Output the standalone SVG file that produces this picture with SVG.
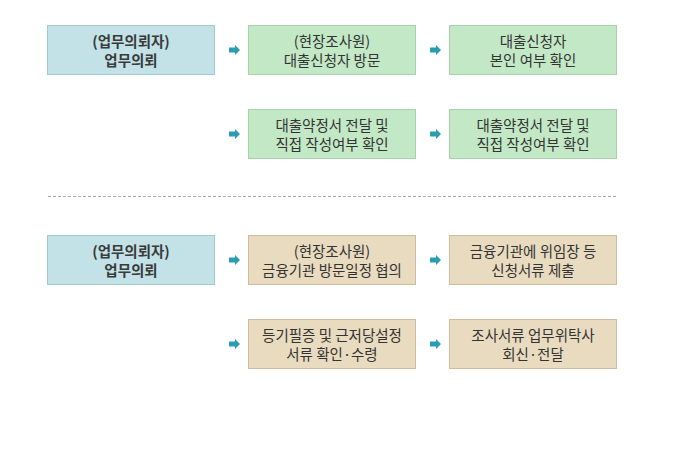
<svg xmlns="http://www.w3.org/2000/svg" width="679" height="464" viewBox="0 0 679 464">
<style>
.blue{fill:#c2e2e8;stroke:#a3c9cf}
.green{fill:#c3e8c6;stroke:#a7d2ab}
.tan{fill:#e9dbbf;stroke:#cfbd9e}
text{font-family:"Noto Sans CJK KR","Noto Sans",sans-serif;font-size:14.5px;fill:#333;text-anchor:middle}
.bold{font-weight:bold;fill:#3a3a3a}
.arr{fill:#2a9db3}
</style>
<defs>
<path id="ar" class="arr" d="M0,-2.5 H6 V-5 L11,0 L6,5 V2.5 H0 Z"/>
</defs>
<rect width="679" height="464" fill="#fff"/>
<g id="n1"><rect class="blue" x="47.5" y="25.5" width="167" height="49"/><text class="bold" x="131" y="47">(업무의뢰자)</text><text class="bold" x="131" y="66">업무의뢰</text></g>
<g id="n2"><rect class="green" x="248.5" y="25.5" width="167" height="49"/><text x="332" y="47">(현장조사원)</text><text x="332" y="66">대출신청자 방문</text></g>
<g id="n3"><rect class="green" x="449.5" y="25.5" width="167" height="49"/><text x="533" y="47">대출신청자</text><text x="533" y="66">본인 여부 확인</text></g>
<g id="n4"><rect class="green" x="248.5" y="109.5" width="167" height="49"/><text x="332" y="131">대출약정서 전달 및</text><text x="332" y="150">직접 작성여부 확인</text></g>
<g id="n5"><rect class="green" x="449.5" y="109.5" width="167" height="49"/><text x="533" y="131">대출약정서 전달 및</text><text x="533" y="150">직접 작성여부 확인</text></g>
<line x1="48" y1="196.5" x2="616" y2="196.5" stroke="#aaa" stroke-dasharray="3,2"/>
<g id="n6"><rect class="blue" x="47.5" y="235.5" width="167" height="49"/><text class="bold" x="131" y="257">(업무의뢰자)</text><text class="bold" x="131" y="276">업무의뢰</text></g>
<g id="n7"><rect class="tan" x="248.5" y="235.5" width="167" height="49"/><text x="332" y="257">(현장조사원)</text><text x="332" y="276">금융기관 방문일정 협의</text></g>
<g id="n8"><rect class="tan" x="449.5" y="235.5" width="167" height="49"/><text x="533" y="257">금융기관에 위임장 등</text><text x="533" y="276">신청서류 제출</text></g>
<g id="n9"><rect class="tan" x="248.5" y="319.5" width="167" height="49"/><text x="332" y="341">등기필증 및 근저당설정</text><text x="332" y="360">서류 확인·수령</text></g>
<g id="n10"><rect class="tan" x="449.5" y="319.5" width="167" height="49"/><text x="533" y="341">조사서류 업무위탁사</text><text x="533" y="360">회신·전달</text></g>
<g id="connectors">
<use href="#ar" x="229" y="50"/>
<use href="#ar" x="430" y="50"/>
<use href="#ar" x="229" y="134"/>
<use href="#ar" x="430" y="134"/>
<use href="#ar" x="229" y="260"/>
<use href="#ar" x="430" y="260"/>
<use href="#ar" x="229" y="344"/>
<use href="#ar" x="430" y="344"/>
</g>
</svg>
